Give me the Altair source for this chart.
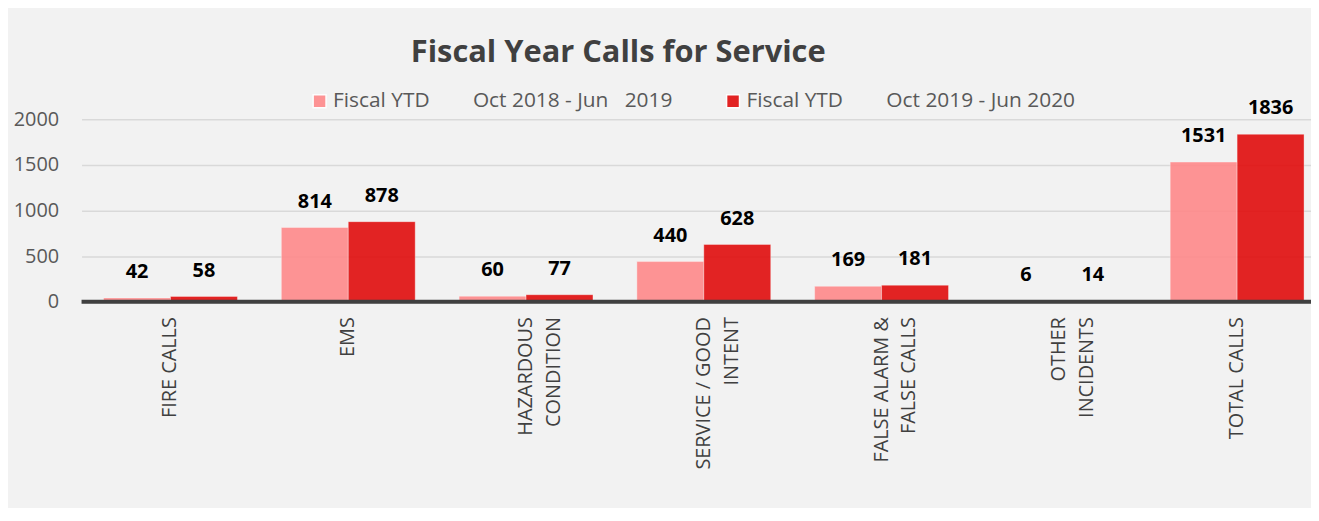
import altair as alt
import pandas as pd

CATS = ["FIRE CALLS", "EMS", "HAZARDOUS\nCONDITION", "SERVICE / GOOD\nINTENT",
        "FALSE ALARM &\nFALSE CALLS", "OTHER\nINCIDENTS", "TOTAL CALLS"]
NB = "\u00a0"
SERIES = ["Fiscal YTD" + NB * 8 + "Oct 2018 - Jun" + NB * 3 + "2019",
          "Fiscal YTD" + NB * 8 + "Oct 2019 - Jun 2020"]
VALS_2019 = [42, 814, 60, 440, 169, 6, 1531]
VALS_2020 = [58, 878, 77, 628, 181, 14, 1836]
COLORS = ["#FF898A", "#E10D0D"]
Y_TICKS = [0, 500, 1000, 1500, 2000]

rows = []
for c, a, b in zip(CATS, VALS_2019, VALS_2020):
    rows.append({"category": c, "series": SERIES[0], "value": a})
    rows.append({"category": c, "series": SERIES[1], "value": b})
df = pd.DataFrame(rows)

FONT = "Open Sans"

x = alt.X("category:N", sort=CATS,
          scale=alt.Scale(paddingInner=0.247, paddingOuter=0.0815, align=0.76,
                          round=False),
          axis=alt.Axis(title=None, labelAngle=270,
                        labelExpr="split(datum.label, '\\n')",
                        labelLineHeight=28, labelFont=FONT, labelFontSize=20,
                        labelColor="#404040", ticks=False, domain=False,
                        labelPadding=15, grid=False))
y = alt.Y("value:Q", scale=alt.Scale(domain=[0, 2000], nice=False),
          axis=alt.Axis(title=None, values=Y_TICKS, format="d", domain=False,
                        ticks=False, tickSize=0, labelPadding=23,
                        labelFont=FONT, labelFontSize=20, labelColor="#595959",
                        gridColor="#d9d9d9", gridWidth=1.5))
xo = alt.XOffset("series:N", sort=SERIES, scale=alt.Scale(paddingInner=0))

base = alt.Chart(df)

bars = base.mark_bar(opacity=0.9, stroke="white", strokeOpacity=0.35,
                     strokeWidth=1).encode(
    x=x, y=y, xOffset=xo,
    color=alt.Color("series:N", sort=SERIES,
                    scale=alt.Scale(domain=SERIES, range=COLORS),
                    legend=alt.Legend(title=None, orient="none", legendX=229,
                                      legendY=-29, direction="horizontal",
                                      columns=2, symbolType="square",
                                      symbolSize=169, labelFont=FONT,
                                      labelFontSize=21, labelColor="#595959",
                                      labelLimit=800, labelOffset=3,
                                      columnPadding=50, padding=0)),
)

zero = alt.Chart(pd.DataFrame({"v": [0]})).mark_rule(
    color="#404040", strokeWidth=4).encode(y=alt.Y("v:Q"))

labels = base.mark_text(font=FONT, fontWeight="bold", fontSize=20,
                        color="black", baseline="alphabetic", dy=-20).encode(
    x=x, y=y, xOffset=xo, text="value:Q")

chart = alt.layer(bars, zero, labels).properties(
    width=1237, height=183.5,
    title=alt.Title("Fiscal Year Calls for Service", anchor="start", dx=400,
                    font=FONT, fontSize=31, fontWeight="bold",
                    color="#404040", offset=-2, baseline="alphabetic"),
    autosize=alt.AutoSizeParams(type="none"),
    padding={"left": 74, "top": 110.5, "right": 0, "bottom": 206},
).configure(background="#f2f2f2").configure_view(stroke=None)

chart.save("out.html", embed_options={"renderer": "svg", "actions": False})
